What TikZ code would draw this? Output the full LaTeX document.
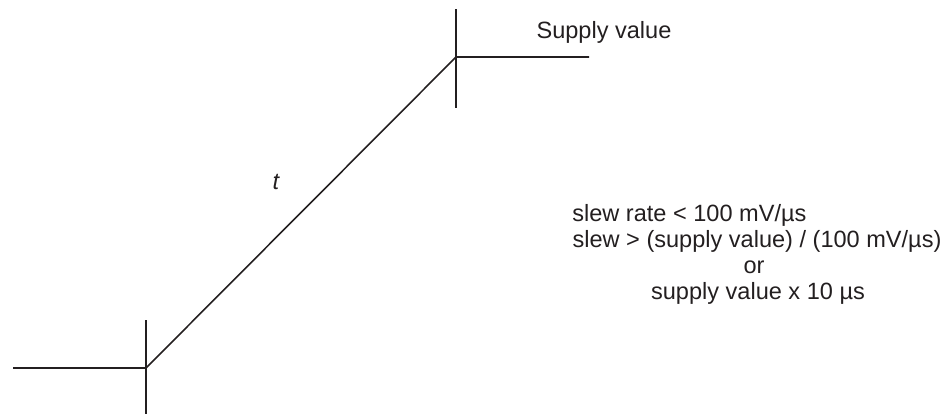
\documentclass[tikz,border=0pt]{standalone}
\usepackage{fontspec}
\setmainfont{Liberation Sans}
\usetikzlibrary{positioning,calc}

\definecolor{inkgray}{RGB}{35,31,32}

\tikzset{
  rampline/.style={draw=inkgray, line width=0.9pt},
  ramptext/.style={text=inkgray, inner sep=0pt,
    font=\fontsize{13.4}{13.05}\selectfont}
}

\begin{document}
\begin{tikzpicture}[x=0.02cm, y=-0.02cm]

\useasboundingbox (0,0) rectangle (949,417);

% -------- Corner points of the ramp --------
\coordinate (lowLeft) at (13,368);
\coordinate (lowCorner) at (146,368);
\coordinate (lowTop) at (146,320);
\coordinate (lowBottom) at (146,414);
\coordinate (highCorner) at (456,57);
\coordinate (highTop) at (456,9);
\coordinate (highBottom) at (456,108);
\coordinate (highRight) at (589,57);

% -------- Ramp and tick marks --------
\draw[rampline] (lowLeft) -- (lowCorner) -- (highCorner) -- (highRight);
\draw[rampline] (lowTop) -- (lowBottom);
\draw[rampline] (highTop) -- (highBottom);

% -------- Labels --------
\node[ramptext] (supplyLabel) at (604,32) {Supply value};
\node[ramptext] (timeLabel) at (276,182) {\itshape t};

% -------- Slew rate conditions --------
\node[ramptext, anchor=base west] (rateLabel) at (572,221)
{slew rate < 100 mV/µs};
\node[ramptext, anchor=base] (slewLabel) at (757,247)
{slew > (supply value) / (100 mV/µs)};
\node[ramptext, anchor=base] (orLabel) at (754,273) {or};
\node[ramptext, anchor=base] (timesLabel) at (758,299)
{supply value x 10 µs};

\end{tikzpicture}
\end{document}
